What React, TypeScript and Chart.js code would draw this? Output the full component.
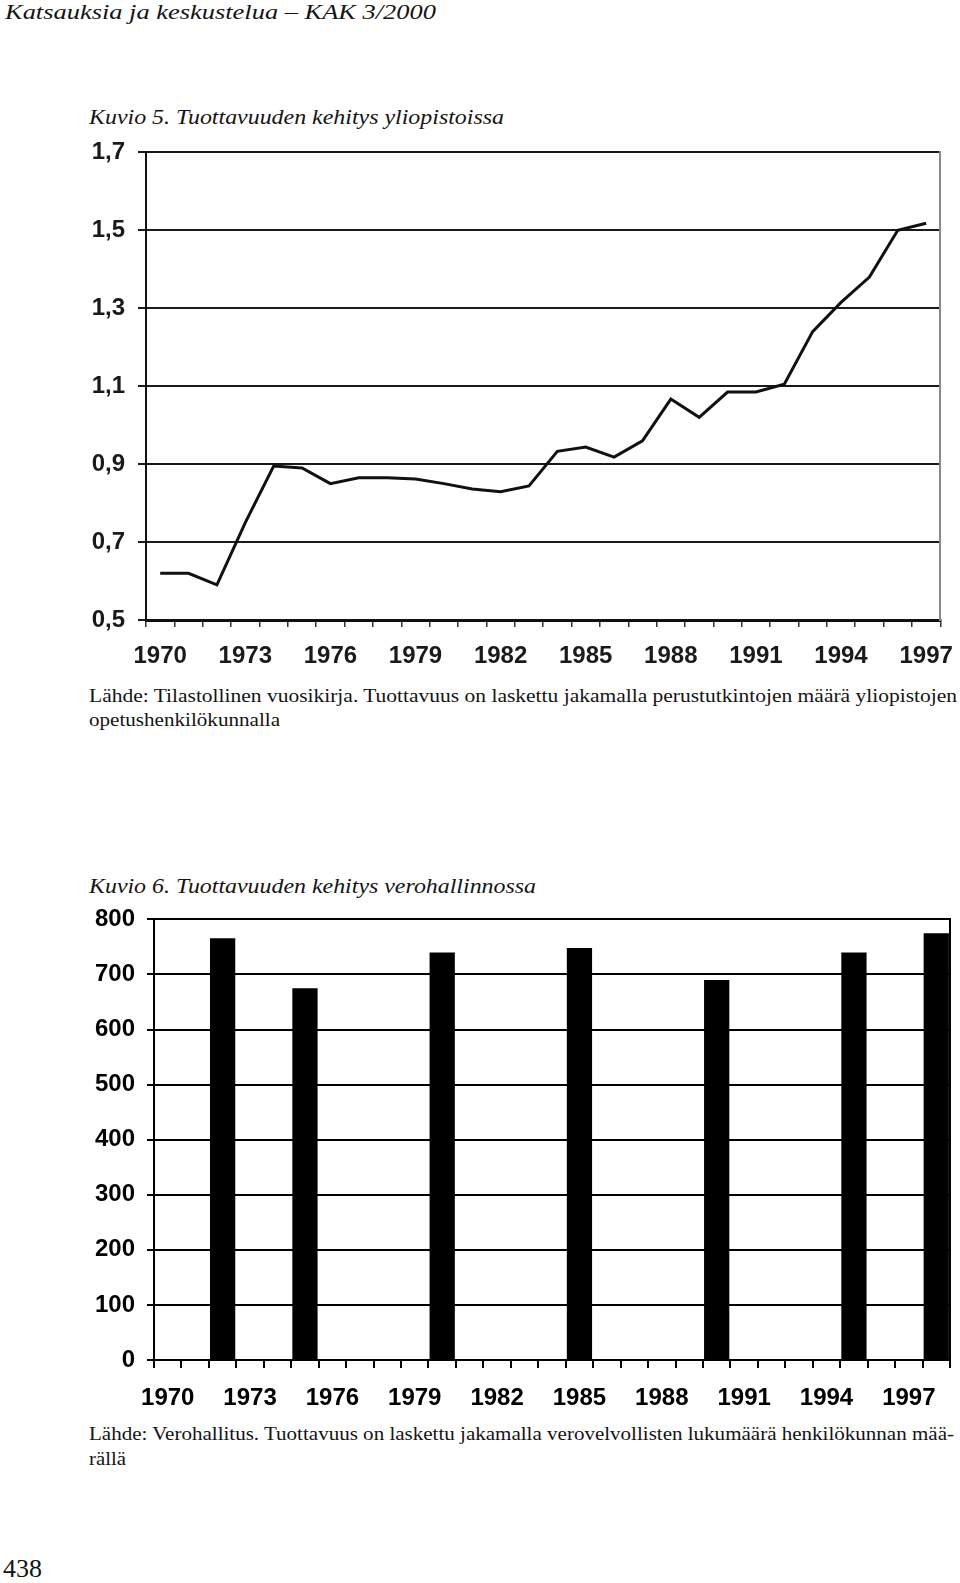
import React, { useEffect, useLayoutEffect, useRef } from "react";
import { Chart, registerables } from "chart.js";

Chart.register(...registerables);

// ---------- DATA ----------
const years1 = ["1970","1971","1972","1973","1974","1975","1976","1977","1978","1979","1980","1981","1982","1983","1984","1985","1986","1987","1988","1989","1990","1991","1992","1993","1994","1995","1996","1997"];
const productivityUniv = [0.62,0.62,0.59,0.75,0.895,0.89,0.85,0.865,0.865,0.862,0.85,0.836,0.829,0.844,0.933,0.944,0.918,0.96,1.067,1.02,1.085,1.085,1.105,1.24,1.315,1.38,1.50,1.518];
const yTicks1 = [0.5, 0.7, 0.9, 1.1, 1.3, 1.5, 1.7];

const years2 = ["1970","1971","1972","1973","1974","1975","1976","1977","1978","1979","1980","1981","1982","1983","1984","1985","1986","1987","1988","1989","1990","1991","1992","1993","1994","1995","1996","1997","1998"];
const productivityTax = [null,null,766,null,null,675,null,null,null,null,740,null,null,null,null,748,null,null,null,null,690,null,null,null,null,740,null,null,775];
const yTicks2 = [0, 100, 200, 300, 400, 500, 600, 700, 800];

const labeledYears = ["1970","1973","1976","1979","1982","1985","1988","1991","1994","1997"];

const headerText = "Katsauksia ja keskustelua – KAK 3/2000";
const title1 = "Kuvio 5. Tuottavuuden kehitys yliopistoissa";
const caption1 = ["Lähde: Tilastollinen vuosikirja. Tuottavuus on laskettu jakamalla perustutkintojen määrä yliopistojen", "opetushenkilökunnalla"];
const title2 = "Kuvio 6. Tuottavuuden kehitys verohallinnossa";
const caption2 = ["Lähde: Verohallitus. Tuottavuus on laskettu jakamalla verovelvollisten lukumäärä henkilökunnan mää-", "rällä"];
const pageNumber = "438";

const tickFont = { family: '"Liberation Sans", Arial, sans-serif', size: 24, weight: "bold" as const };

function FitText(props: { text: string; x: number; cy: number; size: number; width: number; italic?: boolean }) {
  const ref = useRef<HTMLSpanElement>(null);
  useLayoutEffect(() => {
    const el = ref.current;
    if (!el) return;
    el.style.transform = "none";
    const w = el.getBoundingClientRect().width;
    if (w > 0) el.style.transform = `scaleX(${props.width / w})`;
  }, [props.text, props.width]);
  return (
    <span
      ref={ref}
      style={{
        position: "absolute",
        left: props.x,
        top: props.cy - props.size * 0.6,
        fontSize: props.size,
        lineHeight: `${props.size * 1.2}px`,
        fontFamily: '"Liberation Serif", "Times New Roman", Tinos, serif',
        fontStyle: props.italic ? "italic" : "normal",
        whiteSpace: "nowrap",
        transformOrigin: "0 0",
        color: "#141414",
      }}
    >
      {props.text}
    </span>
  );
}

function LineChart() {
  const ref = useRef<HTMLCanvasElement>(null);
  useEffect(() => {
    if (!ref.current) return;
    const chart = new Chart(ref.current, {
      type: "line",
      data: {
        labels: years1,
        datasets: [
          {
            data: productivityUniv,
            borderColor: "#111",
            borderWidth: 3,
            pointRadius: 0,
            tension: 0,
            fill: false,
          },
        ],
      },
      options: {
        animation: false,
        responsive: false,
        devicePixelRatio: 1,
        layout: { padding: 0 },
        plugins: { legend: { display: false }, tooltip: { enabled: false } },
        scales: {
          x: {
            type: "category",
            offset: true,
            grid: { offset: true, drawOnChartArea: false, drawTicks: true, tickLength: 7, color: "#333", lineWidth: 1.5 },
            border: { display: true, color: "#111", width: 3 },
            ticks: {
              autoSkip: false,
              maxRotation: 0,
              padding: 15,
              color: "#1a1a1a",
              font: tickFont,
              callback: (_v: any, i: number) => (labeledYears.includes(years1[i]) ? years1[i] : ""),
            },
            afterFit: (s: any) => { s.height = 55; },
          },
          y: {
            min: yTicks1[0],
            max: yTicks1[yTicks1.length - 1],
            afterBuildTicks: (s: any) => { s.ticks = yTicks1.map((v) => ({ value: v })); },
            grid: { color: "#1a1a1a", lineWidth: 2, tickLength: 8 },
            border: { display: true, color: "#111", width: 2 },
            ticks: {
              padding: 13,
              color: "#1a1a1a",
              font: tickFont,
              callback: (v: any) => Number(v).toFixed(1).replace(".", ","),
            },
            afterFit: (s: any) => { s.width = 76; },
          },
          y2: {
            position: "right",
            display: true,
            grid: { display: false },
            ticks: { display: false },
            border: { display: true, color: "#8a8a8a", width: 2 },
            afterFit: (s: any) => { s.width = 10; },
          },
        },
      },
    });
    return () => chart.destroy();
  }, []);
  return <canvas ref={ref} width={898} height={550} style={{ position: "absolute", left: 70, top: 125 }} />;
}

function BarChart() {
  const ref = useRef<HTMLCanvasElement>(null);
  useEffect(() => {
    if (!ref.current) return;
    const chart = new Chart(ref.current, {
      type: "bar",
      data: {
        labels: years2,
        datasets: [
          {
            data: productivityTax,
            backgroundColor: "#000",
            borderWidth: 0,
            barPercentage: 0.92,
            categoryPercentage: 1,
          },
        ],
      },
      options: {
        animation: false,
        responsive: false,
        devicePixelRatio: 1,
        layout: { padding: 0 },
        plugins: { legend: { display: false }, tooltip: { enabled: false } },
        scales: {
          x: {
            type: "category",
            offset: true,
            grid: { offset: true, drawOnChartArea: false, drawTicks: true, tickLength: 8, color: "#000", lineWidth: 2 },
            border: { display: true, color: "#000", width: 2 },
            ticks: {
              autoSkip: false,
              maxRotation: 0,
              padding: 16,
              color: "#000",
              font: tickFont,
              callback: (_v: any, i: number) => (labeledYears.includes(years2[i]) ? years2[i] : ""),
            },
            afterFit: (s: any) => { s.height = 55; },
          },
          y: {
            min: yTicks2[0],
            max: yTicks2[yTicks2.length - 1],
            afterBuildTicks: (s: any) => { s.ticks = yTicks2.map((v) => ({ value: v })); },
            grid: { color: "#000", lineWidth: 2, tickLength: 7 },
            border: { display: true, color: "#000", width: 2 },
            ticks: { padding: 12, color: "#000", font: tickFont },
            afterFit: (s: any) => { s.width = 84; },
          },
          y2: {
            position: "right",
            display: true,
            grid: { display: false },
            ticks: { display: false },
            border: { display: true, color: "#000", width: 2 },
            afterFit: (s: any) => { s.width = 10; },
          },
        },
      },
    });
    return () => chart.destroy();
  }, []);
  return <canvas ref={ref} width={890} height={522} style={{ position: "absolute", left: 70, top: 893 }} />;
}

export default function App() {
  return (
    <div style={{ position: "absolute", left: 0, top: 0, width: 960, height: 1583, background: "#fff", overflow: "hidden" }}>
      <FitText text={headerText} x={5} cy={13} size={21} width={431} italic />
      <FitText text={title1} x={89} cy={117} size={22} width={415} italic />
      <LineChart />
      <FitText text={caption1[0]} x={89} cy={696} size={19} width={868} />
      <FitText text={caption1[1]} x={89} cy={720} size={19} width={191} />
      <FitText text={title2} x={89} cy={886} size={22} width={447} italic />
      <BarChart />
      <FitText text={caption2[0]} x={89} cy={1434} size={19} width={865} />
      <FitText text={caption2[1]} x={89} cy={1459} size={19} width={37} />
      <FitText text={pageNumber} x={3} cy={1569} size={25} width={39} />
    </div>
  );
}
